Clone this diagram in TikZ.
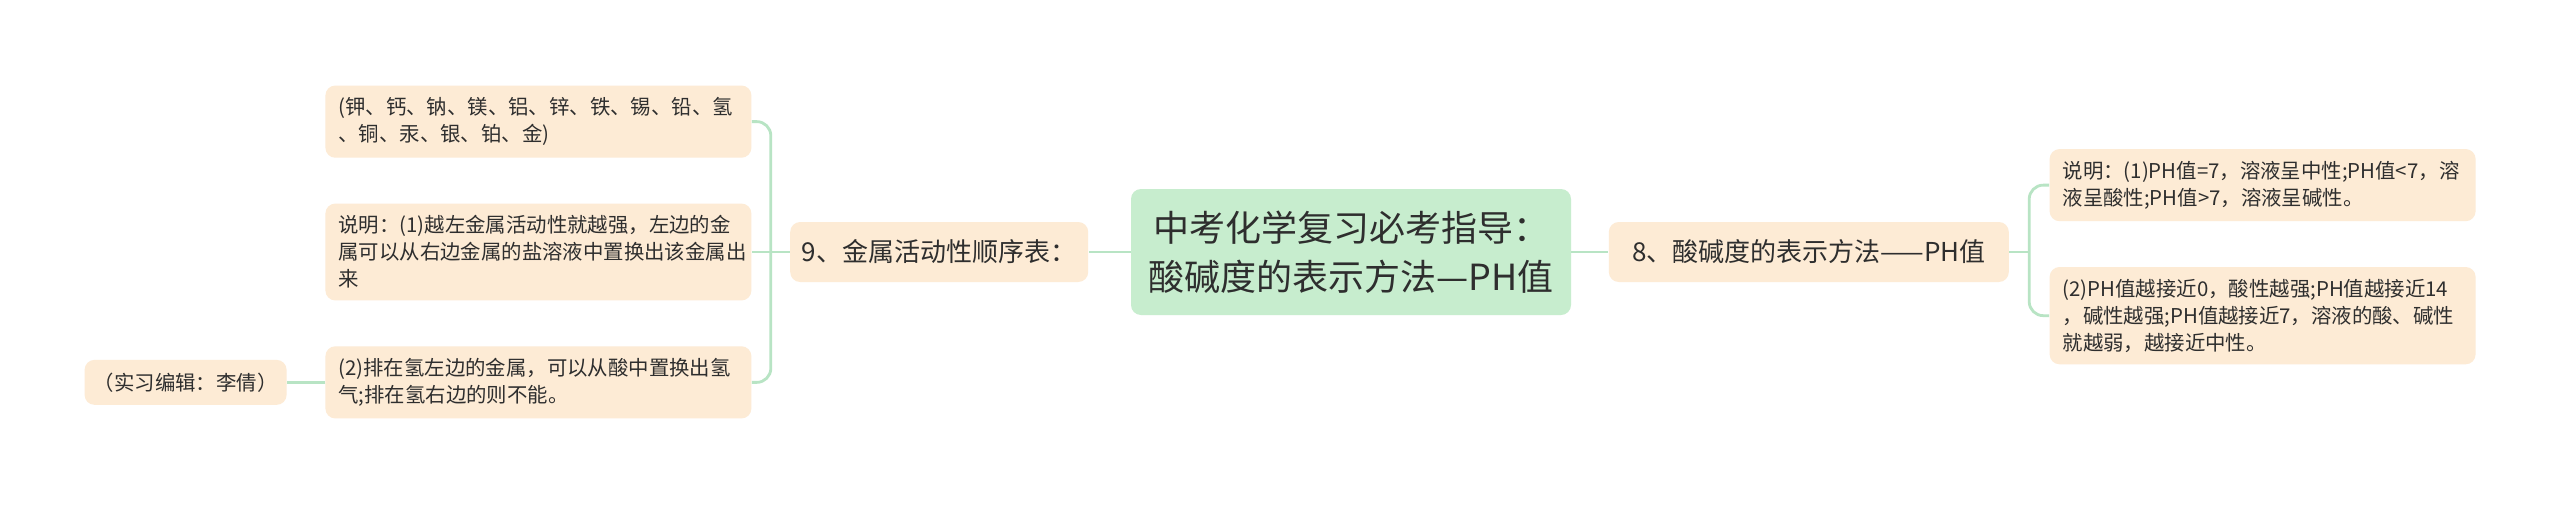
\documentclass[tikz,border=0pt]{standalone}
\usepackage{fontspec}
\setmainfont{Noto Sans CJK SC}
\usepackage{tikz}
\usetikzlibrary{positioning}

\definecolor{linkgreen}{RGB}{184,228,196}
\definecolor{rootfill}{RGB}{199,237,206}
\definecolor{notefill}{RGB}{253,235,213}

\begin{document}
\begin{tikzpicture}[%
            x=1pt, y=1pt,
            every node/.style={text=black!82},
            topic/.style={fill=rootfill, rounded corners=5pt, align=center,
                minimum width=220pt, minimum height=63pt,
                font=\fontsize{18}{24.5}\selectfont},
            branch/.style={fill=notefill, rounded corners=5pt, inner xsep=8pt,
                minimum height=30pt, font=\fontsize{13}{16}\selectfont},
            note/.style={fill=notefill, rounded corners=5pt, text width=200pt,
                inner xsep=6.5pt, inner ysep=6pt, align=left,
                font=\fontsize{10.2}{13.5}\selectfont},
            link/.style={draw=linkgreen, line width=1.4pt, rounded corners=7pt}
            ]
            \fill[white] (0,0) rectangle (1280,-252);
            \useasboundingbox (0,0) rectangle (1280,-252);

            \node[topic] (root) at (675.5,-126) {中考化学复习必考指导：\\酸碱度的表示方法—PH值};
            \node[branch, inner xsep=5.5pt, minimum width=149pt] (metals) [left=21pt of root] {9、金属活动性顺序表：};
            \node[branch, minimum width=200pt] (ph) [right=18.5pt of root] {8、酸碱度的表示方法——PH值};

            \node[note] (order) [left=19pt of metals] {说明：(1)越左金属活动性就越强，左边的金\\属可以从右边金属的盐溶液中置换出该金属出\\来};
            \node[note] (list) [above=22.5pt of order] {(钾、钙、钠、镁、铝、锌、铁、锡、铅、氢\\、铜、汞、银、铂、金)};
            \node[note] (acid) [below=22.5pt of order] {(2)排在氢左边的金属，可以从酸中置换出氢\\气;排在氢右边的则不能。};
            \node[fill=notefill, rounded corners=5pt, minimum width=101pt, minimum height=22.5pt,
                font=\fontsize{10.2}{13.5}\selectfont] (editor) [left=19pt of acid] {（实习编辑：李倩）};

            \node[note] (neutral) [above right=0pt and 20pt of ph] {说明：(1)PH值=7，溶液呈中性;PH值<7，溶\\液呈酸性;PH值>7，溶液呈碱性。};
            \node[note] (range) [below=22.5pt of neutral] {(2)PH值越接近0，酸性越强;PH值越接近14\\，碱性越强;PH值越接近7，溶液的酸、碱性\\就越弱，越接近中性。};

            \draw[link] (root.west) -- (metals.east);
            \draw[link] (root.east) -- (ph.east -| ph.west);
            \draw[link] (metals.west) -- (order.east);
            \draw[link] (metals.west) -- ++(-9.5,0) coordinate (lj);
            \draw[link] (list.east) -| (lj) |- (acid.east);
            \draw[link] (acid.west) -- (editor.east);
            \draw[link] (ph.east) -- ++(10,0) coordinate (rj);
            \draw[link] (neutral.west) -| (rj) |- (range.west);
        \end{tikzpicture}
\end{document}
